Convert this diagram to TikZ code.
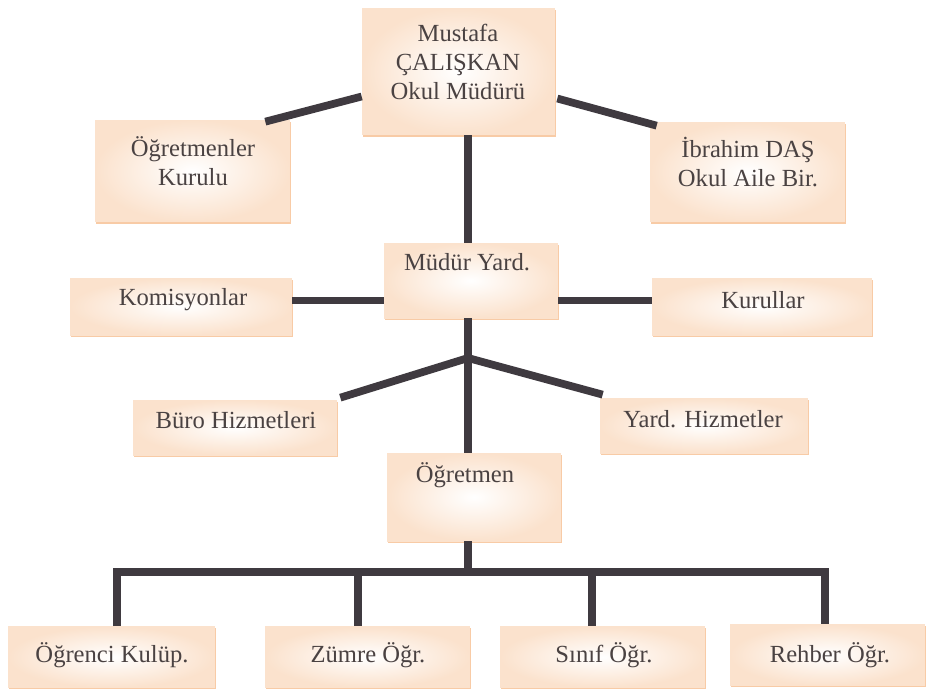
\documentclass[tikz,border=0pt]{standalone}
\usepackage{fontspec}
\setmainfont{Liberation Serif}
\usetikzlibrary{calc,shadows}
\definecolor{linkgray}{HTML}{3F3A40}
\definecolor{textgray}{HTML}{4A4242}
\definecolor{peach}{HTML}{FBE2CD}
\definecolor{peachedge}{HTML}{F7C59C}
\tikzset{
  box/.style={draw=none, inner sep=0pt, shading=radial, inner color=white,
    outer color=peach,
    drop shadow={shadow xshift=0.8pt, shadow yshift=-1pt, fill=peachedge, opacity=0.9}},
  lbl/.style={text=textgray, align=center, font=\fontsize{14}{16.5}\selectfont},
  link/.style={draw=linkgray, line width=4.4pt, line join=miter}
}
\begin{document}
\begin{tikzpicture}[x=0.02cm, y=-0.02cm]
  \useasboundingbox (0,0) rectangle (931,691);
  % boxes
  \node[box, minimum width=3.86cm, minimum height=2.54cm] (top) at (458.5,71.5) {};
  \node[box, minimum width=3.9cm, minimum height=2.04cm] (ogk) at (192.5,171) {};
  \node[box, minimum width=3.9cm, minimum height=2.0cm] (ibr) at (747.5,172) {};
  \node[box, minimum width=3.48cm, minimum height=1.5cm] (myard) at (471,280.5) {};
  \node[box, minimum width=4.44cm, minimum height=1.14cm] (kom) at (181,306.5) {};
  \node[box, minimum width=4.4cm, minimum height=1.14cm] (kur) at (762,306.5) {};
  \node[box, minimum width=4.08cm, minimum height=1.1cm] (buro) at (235,427.5) {};
  \node[box, minimum width=4.16cm, minimum height=1.1cm] (yard) at (704,425.5) {};
  \node[box, minimum width=3.48cm, minimum height=1.76cm] (ogr) at (474,497) {};
  \node[box, minimum width=4.14cm, minimum height=1.22cm] (b1) at (111.5,657) {};
  \node[box, minimum width=4.1cm, minimum height=1.22cm] (b2) at (367.5,657) {};
  \node[box, minimum width=4.1cm, minimum height=1.22cm] (b3) at (602.5,657) {};
  \node[box, minimum width=3.9cm, minimum height=1.22cm] (b4) at (827.5,655) {};
  % texts
  \node[lbl] (topT) at (458,62) {Mustafa\\ÇALIŞKAN\\Okul Müdürü};
  \node[lbl] (ogkT) at (193,161) {Öğretmenler\\Kurulu};
  \node[lbl] (ibrT) at (748,162) {İbrahim DAŞ\\Okul Aile Bir.};
  \node[lbl] (myardT) at (467,262) {Müdür Yard.};
  \node[lbl] (komT) at (183,300) {Komisyonlar};
  \node[lbl] (kurT) at (763,300) {Kurullar};
  \node[lbl] (buroT) at (236,420) {Büro Hizmetleri};
  \node[lbl] (yardT) at (703,419) {Yard. Hizmetler};
  \node[lbl] (ogrT) at (465,475) {Öğretmen};
  \node[lbl] (b1T) at (112,655) {Öğrenci Kulüp.};
  \node[lbl] (b2T) at (368,655) {Zümre Öğr.};
  \node[lbl] (b3T) at (604,655) {Sınıf Öğr.};
  \node[lbl] (b4T) at (830,655) {Rehber Öğr.};
  % connectors
  \coordinate (mL) at ($(myard.west)+(0,20)$);
  \coordinate (mR) at ($(myard.east)+(0,20)$);
  \coordinate (jn) at (468,358);
  \coordinate (bus) at (468,572);
  \coordinate (d1) at (117,572);
  \coordinate (d2) at (358,572);
  \coordinate (d3) at (592,572);
  \coordinate (d4) at (825,572);
  \draw[link] ($(top.west)+(0,25)$) -- ($(ogk.north east)+(-25,2)$);
  \draw[link] ($(top.east)+(2,27)$) -- ($(ibr.north west)+(7,4)$);
  \draw[link] (top.south -| jn) -- (myard.north -| jn);
  \draw[link] (mL) -- (mL -| kom.east);
  \draw[link] (mR) -- (mR -| kur.west);
  \draw[link] (myard.south -| jn) -- (ogr.north -| jn);
  \draw[link] (jn) -- ($(buro.north east)+(3,-2)$);
  \draw[link] (jn) -- ($(yard.north west)+(3,-3)$);
  \draw[link] (ogr.south -| bus) -- (bus);
  \draw[link] (b1.north -| d1) -- (d1) -- (d4) -- (b4.north -| d4);
  \draw[link] (d2) -- (b2.north -| d2);
  \draw[link] (d3) -- (b3.north -| d3);
\end{tikzpicture}
\end{document}
